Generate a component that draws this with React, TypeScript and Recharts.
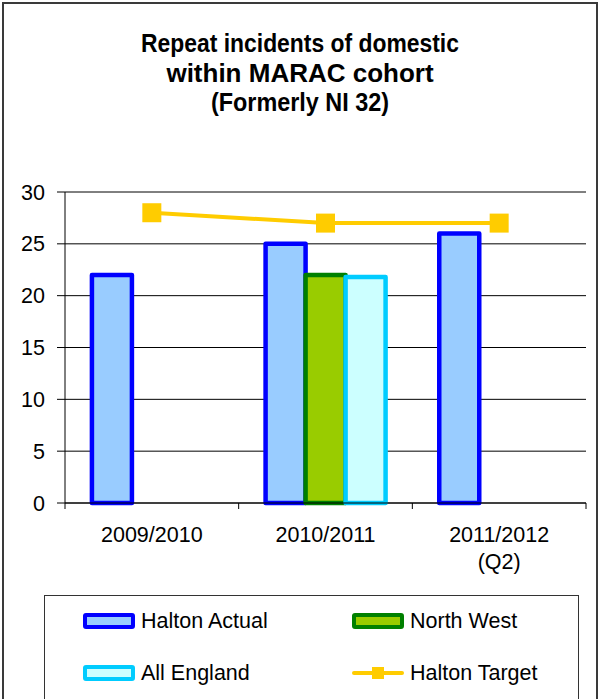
import React from 'react';
import { ComposedChart, Bar, Line, XAxis, YAxis, CartesianGrid } from 'recharts';

const categories = ['2009/2010', '2010/2011', '2011/2012\n(Q2)'];
const haltonActual = [22, 25, 26];
const northWest = [null, 22, null];
const allEngland = [null, 21.8, null];
const haltonTarget = [28, 27, 27];
const yTicks = [0, 5, 10, 15, 20, 25, 30];
const titleLines = ['Repeat incidents of domestic', 'within MARAC cohort', '(Formerly NI 32)'];
const titleScale = [0.88, 1.0, 0.9];

const series = [
  { key: 'halton', name: 'Halton Actual', fill: '#99CCFF', stroke: '#0000FF', type: 'bar' },
  { key: 'northWest', name: 'North West', fill: '#99CC00', stroke: '#008000', type: 'bar' },
  { key: 'allEngland', name: 'All England', fill: '#CCFFFF', stroke: '#00CCFF', type: 'bar' },
  { key: 'target', name: 'Halton Target', fill: '#FFCC00', stroke: '#FFCC00', type: 'line' },
];

const data = categories.map((c, i) => ({
  category: c,
  halton: haltonActual[i],
  northWest: northWest[i],
  allEngland: allEngland[i],
  target: haltonTarget[i],
}));

const FONT = '"Liberation Sans", Arial, Helvetica, sans-serif';
const CHART_W = 600;
const CHART_H = 600;
const MARGIN = { top: 192, right: 14, bottom: 37, left: 0 };
const Y_AXIS_W = 65;
const PLOT_W = CHART_W - MARGIN.left - MARGIN.right - Y_AXIS_W;
const BAND = PLOT_W / categories.length;

function XTick(props: any) {
  const { x, y, payload, index } = props;
  const half = BAND / 2;
  const lines = String(payload.value).split('\n');
  const last = index === categories.length - 1;
  return (
    <g>
      <line x1={x - half} x2={x - half} y1={y} y2={y + 6} stroke="#000" strokeWidth={1} />
      {last && <line x1={x + half} x2={x + half} y1={y} y2={y + 6} stroke="#000" strokeWidth={1} />}
      <text x={x} y={y + 39} textAnchor="middle" fontSize={21.5} fontFamily={FONT} fill="#000">
        {lines.map((l, i) => (
          <tspan key={i} x={x} dy={i === 0 ? 0 : 27}>{l}</tspan>
        ))}
      </text>
    </g>
  );
}

function SquareDot(props: any) {
  const { cx, cy, index } = props;
  if (cx == null || cy == null) return <g key={`d-${index}`} />;
  return <rect key={`d-${index}`} x={cx - 9.5} y={cy - 9.5} width={19} height={19} fill="#FFCC00" />;
}

function LegendItem({ s, left, top }: any) {
  const textStyle: React.CSSProperties = {
    position: 'absolute', left: left + 58, top: top - 14, fontSize: 21.5, fontFamily: FONT,
    color: '#000', lineHeight: '28px', whiteSpace: 'nowrap',
  };
  if (s.type === 'line') {
    return (
      <>
        <div style={{ position: 'absolute', left, top: top - 2, width: 52, height: 4, background: s.stroke, borderRadius: 2 }} />
        <div style={{ position: 'absolute', left: left + 20, top: top - 6, width: 12, height: 12, background: s.fill }} />
        <div style={textStyle}>{s.name}</div>
      </>
    );
  }
  return (
    <>
      <div style={{
        position: 'absolute', left, top: top - 8, width: 44, height: 8,
        border: `4px solid ${s.stroke}`, background: s.fill, borderRadius: 3,
      }} />
      <div style={textStyle}>{s.name}</div>
    </>
  );
}

export default function App() {
  const legendPos = [
    { left: 83, top: 621 },
    { left: 352, top: 621 },
    { left: 83, top: 673 },
    { left: 352, top: 673 },
  ];
  return (
    <div style={{ position: 'absolute', left: 0, top: 0, width: 600, height: 699, overflow: 'hidden', background: '#fff', fontFamily: FONT }}>
      <div style={{ position: 'absolute', left: 2, top: 2, width: 592, height: 720, border: '2px solid #3a3a3a' }} />
      {titleLines.map((t, i) => (
        <div key={i} style={{
          position: 'absolute', left: 0, width: 600, top: 27 + i * 29.5, textAlign: 'center',
          fontWeight: 'bold', fontSize: 26, lineHeight: '32px', color: '#000', whiteSpace: 'nowrap',
          transform: `scaleX(${titleScale[i]})`, transformOrigin: '300px 50%',
        }}>{t}</div>
      ))}
      <div style={{ position: 'absolute', left: 0, top: 0 }}>
        <ComposedChart width={CHART_W} height={CHART_H} data={data} margin={MARGIN}
          barCategoryGap="15.5%" barGap={0}>
          <CartesianGrid vertical={false} stroke="#000" strokeWidth={1} />
          <XAxis dataKey="category" height={60} axisLine={{ stroke: '#000' }} tickLine={false}
            tickSize={0} tickMargin={0} tick={<XTick />} interval={0} />
          <YAxis width={Y_AXIS_W} domain={[0, 30]} ticks={yTicks} interval={0}
            axisLine={{ stroke: '#000' }} tickLine={{ stroke: '#000' }} tickSize={8} tickMargin={12}
            tick={{ fontSize: 21.5, fill: '#000', fontFamily: FONT }} />
          {series.filter(s => s.type === 'bar').map(s => (
            <Bar key={s.key} dataKey={s.key} name={s.name} fill={s.fill} stroke={s.stroke}
              strokeWidth={4.5} strokeLinejoin="round" isAnimationActive={false} />
          ))}
          <Line dataKey="target" name="Halton Target" type="linear" stroke="#FFCC00" strokeWidth={4}
            dot={SquareDot} activeDot={false} isAnimationActive={false} />
        </ComposedChart>
      </div>
      <div style={{ position: 'absolute', left: 44, top: 595, width: 533, height: 120, border: '1px solid #333' }} />
      {series.map((s, i) => (
        <LegendItem key={s.key} s={s} left={legendPos[i].left} top={legendPos[i].top} />
      ))}
    </div>
  );
}
